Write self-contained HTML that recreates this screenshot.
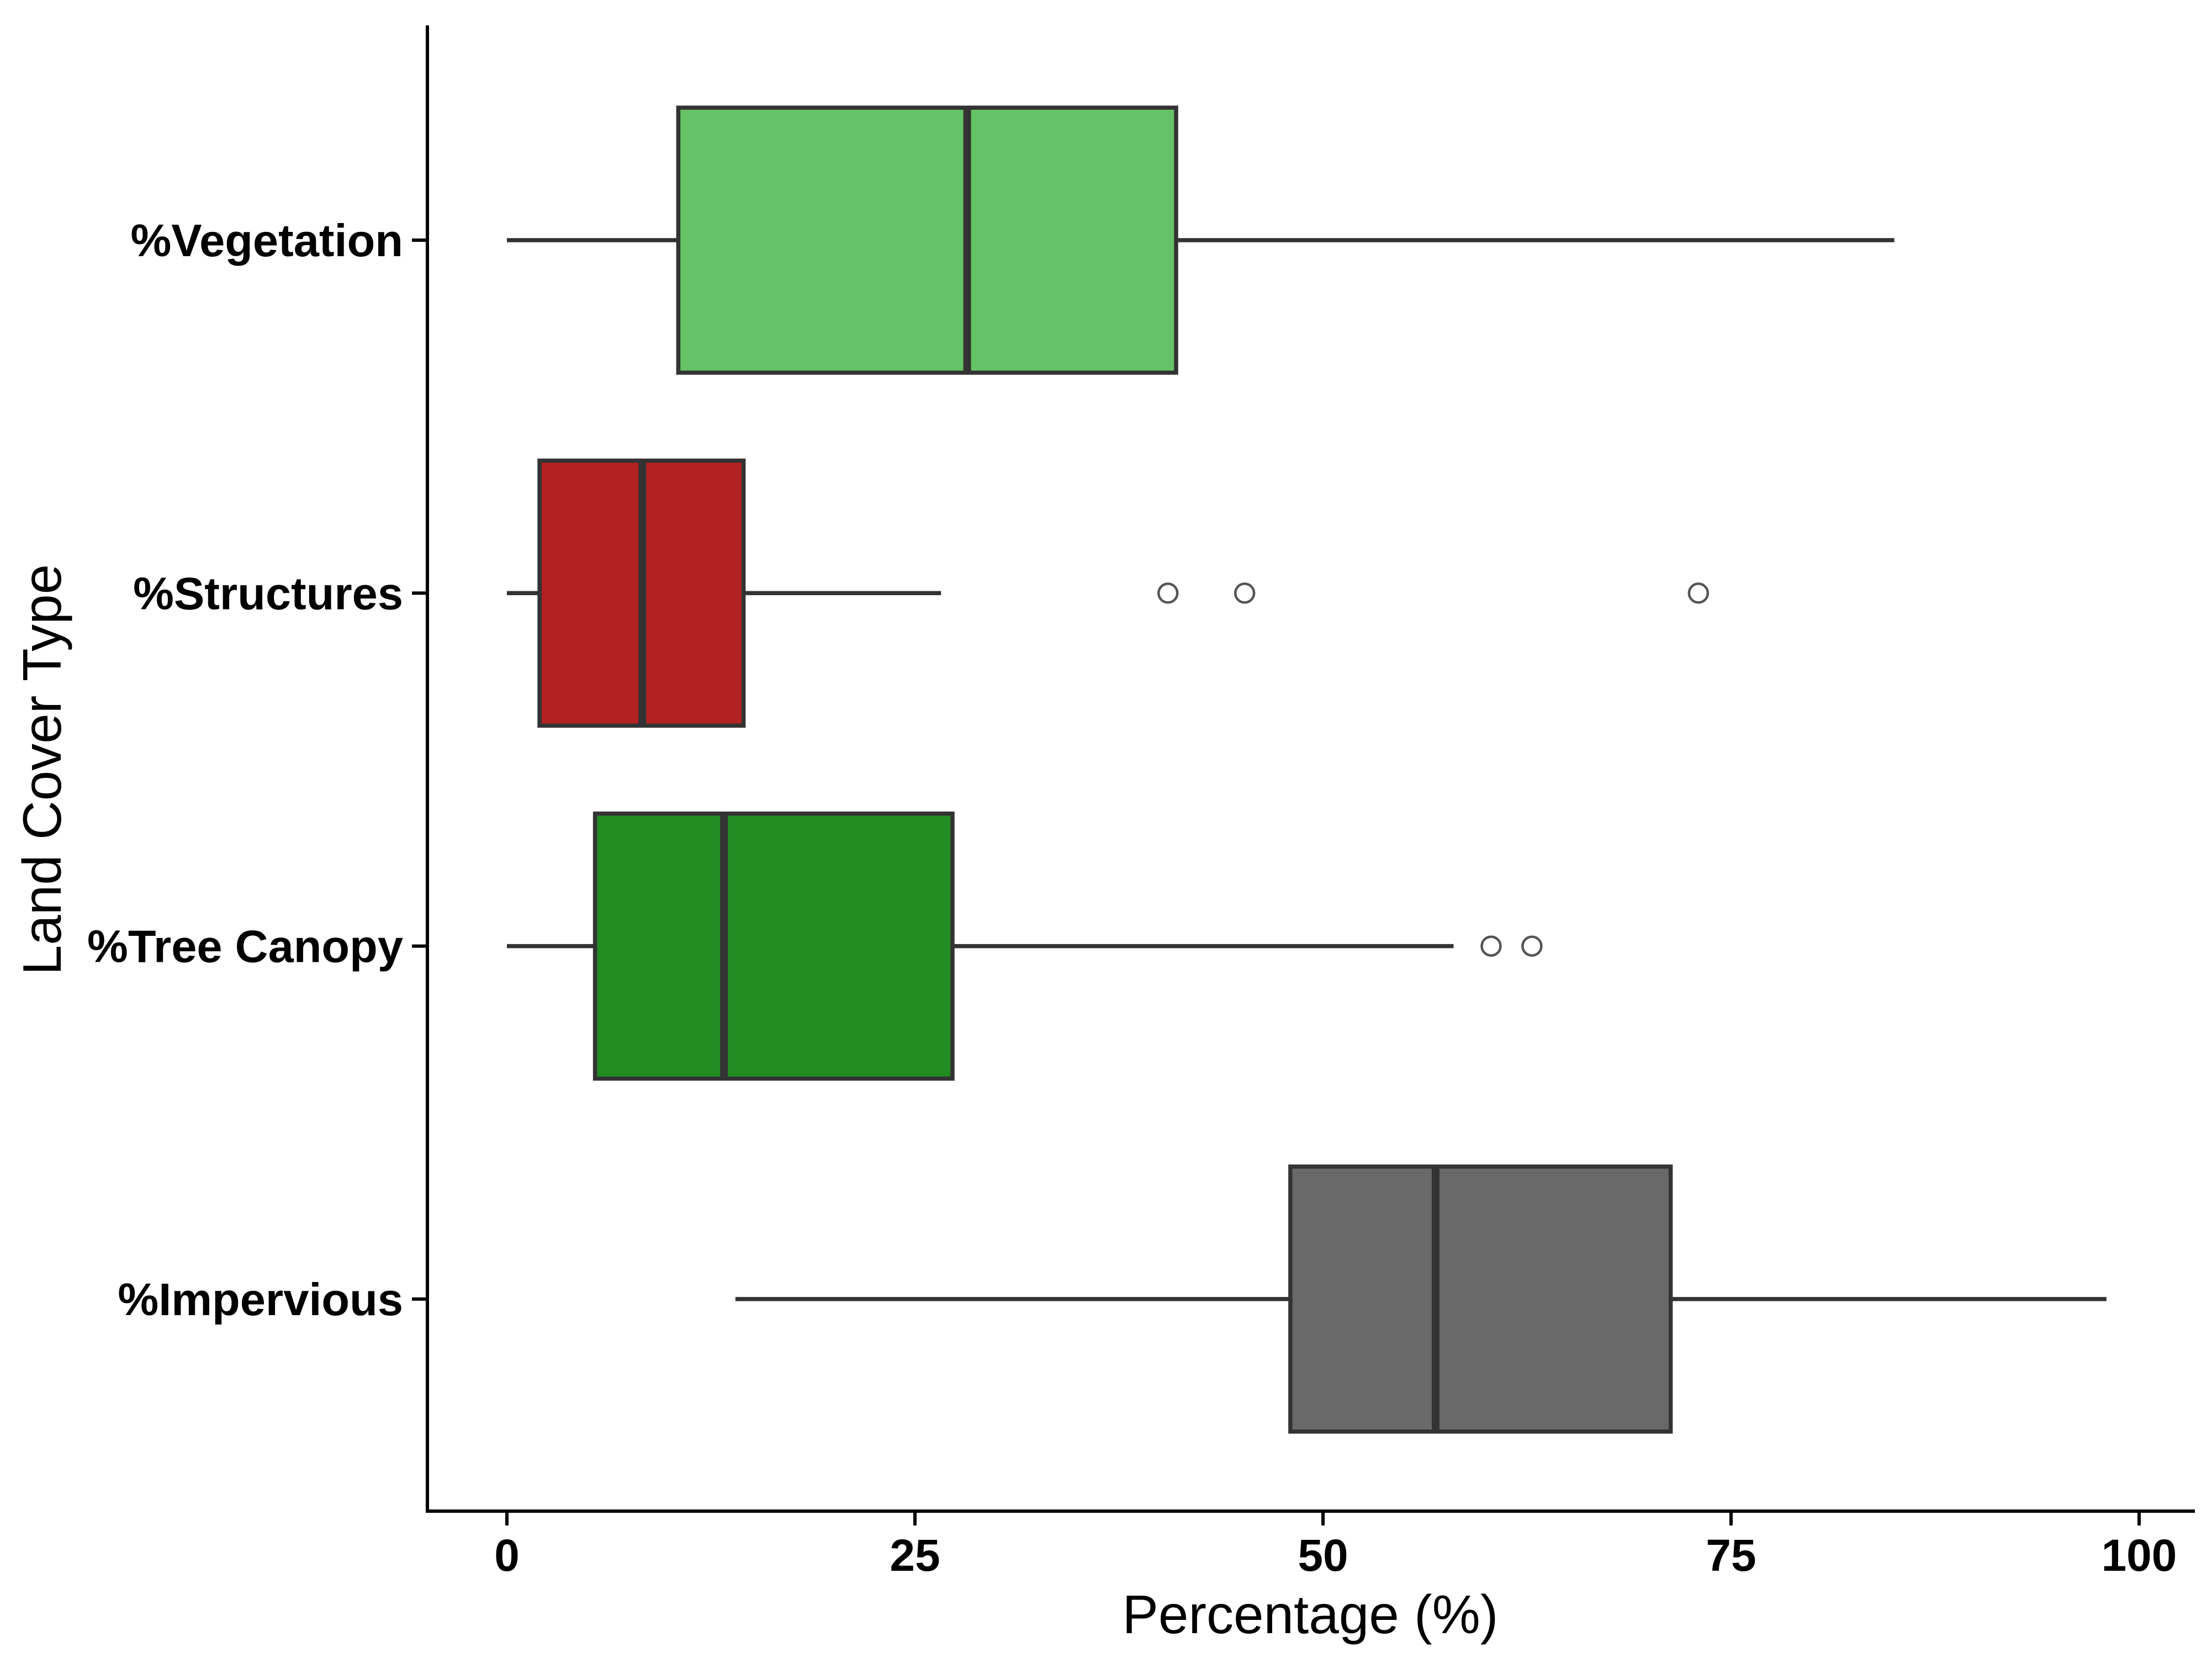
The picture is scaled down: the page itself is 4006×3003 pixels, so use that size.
<!DOCTYPE html>
<html><head><meta charset="utf-8"><style>html,body{margin:0;padding:0;background:#fff}svg{display:block}</style></head>
<body>
<svg id="chart" width="4006" height="3003" viewBox="0 0 4006 3003" xmlns="http://www.w3.org/2000/svg" font-family="Liberation Sans, Arial, sans-serif">
<g id="plot"></g>
</svg>
<script>
const categories = ["%Vegetation","%Structures","%Tree Canopy","%Impervious"];
const whiskerLow = [0, 0, 0, 14];
const q1 = [10.5, 2, 5.4, 48];
const medians = [28.2, 8.3, 13.3, 56.9];
const q3 = [41, 14.5, 27.3, 71.3];
const whiskerHigh = [85, 26.6, 58, 98];
const outliers = [[], [40.5, 45.2, 73], [60.3, 62.8], []];
const colors = ["#66c266", "#b22222", "#228b22", "#696969"];
const xTicks = [0, 25, 50, 75, 100];

const NS = "http://www.w3.org/2000/svg";
const g = document.getElementById("plot");
const X0 = 918, X1 = 3874;
const xs = v => X0 + (X1 - X0) * v / 100;
const yTop = 435, yStep = 639.3;
const ys = i => yTop + i * yStep;
const halfH = 240;
function mk(tag, attrs, parent) {
  const e = document.createElementNS(NS, tag);
  for (const k in attrs) e.setAttribute(k, attrs[k]);
  (parent || g).appendChild(e);
  return e;
}
categories.forEach((c, i) => {
  const y = ys(i);
  const grp = mk("g", {});
  
  
  mk("line", {x1: xs(whiskerLow[i]), x2: xs(q1[i]), y1: y, y2: y, stroke: "#333", "stroke-width": 7.5}, grp);
  mk("line", {x1: xs(q3[i]), x2: xs(whiskerHigh[i]), y1: y, y2: y, stroke: "#333", "stroke-width": 7.5}, grp);
  mk("rect", {x: xs(q1[i]), y: y - halfH, width: xs(q3[i]) - xs(q1[i]), height: 2 * halfH, fill: colors[i], stroke: "#333", "stroke-width": 7.5}, grp);
  mk("line", {x1: xs(medians[i]), x2: xs(medians[i]), y1: y - halfH, y2: y + halfH, stroke: "#333", "stroke-width": 14}, grp);
  outliers[i].forEach(o => {
    const cEl = mk("circle", {cx: xs(o), cy: y, r: 17, fill: "none", stroke: "#555", "stroke-width": 4.5}, grp);
    
    
  });
  mk("line", {x1: 746, x2: 772, y1: y, y2: y, stroke: "#000", "stroke-width": 6});
  const t = mk("text", {x: 730, y: y + 29, "text-anchor": "end", "font-size": 83, "font-weight": "bold", fill: "#000"});
  t.textContent = c;
  
  
});
xTicks.forEach(v => {
  mk("line", {x1: xs(v), x2: xs(v), y1: 2737, y2: 2763, stroke: "#000", "stroke-width": 6});
  const t = mk("text", {x: xs(v), y: 2845, "text-anchor": "middle", "font-size": 82, "font-weight": "bold", fill: "#000"});
  t.textContent = v;
  
  
});
const ax = mk("path", {d: "M774 46 V2737 H3975", fill: "none", stroke: "#000", "stroke-width": 6});


const xt = mk("text", {x: 2373, y: 2958, "text-anchor": "middle", "font-size": 98, fill: "#000"});
xt.textContent = "Percentage (%)";


const yt = mk("text", {x: 0, y: 0, transform: "translate(110,1394) rotate(-90)", "text-anchor": "middle", "font-size": 98, fill: "#000"});
yt.textContent = "Land Cover Type";


</script>
</body></html>
